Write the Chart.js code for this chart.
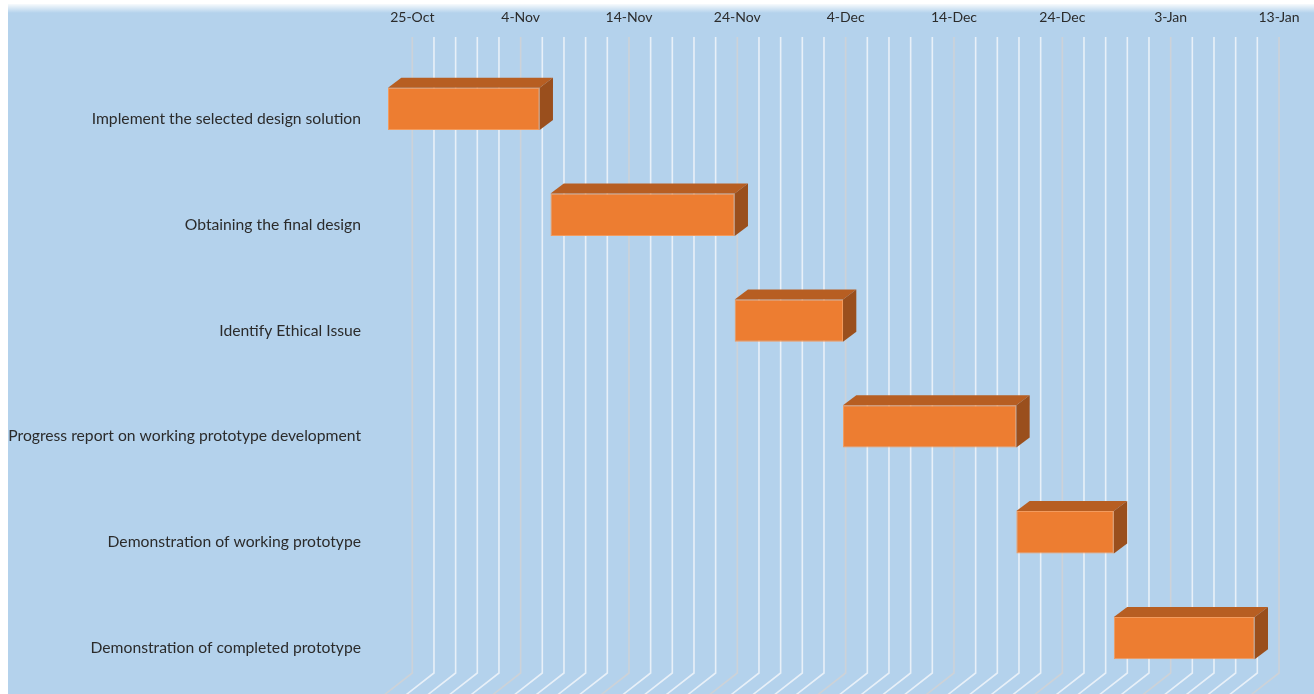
<!DOCTYPE html>
<html>
<head>
<meta charset="utf-8">
<title>Project schedule</title>
<script src="https://cdn.jsdelivr.net/npm/chart.js@4.4.1/dist/chart.umd.min.js"></script>
<style>
  html, body { margin: 0; padding: 0; background: #fff; }
  #wrap { width: 1314px; height: 694px; }
</style>
</head>
<body>
<div id="wrap"><canvas id="gantt"></canvas></div>
<script>
// schedule data
const tasks = [
    'Implement the selected design solution',
    'Obtaining the final design',
    'Identify Ethical Issue',
    'Progress report on working prototype development',
    'Demonstration of working prototype',
    'Demonstration of completed prototype'
];
const startDates = ['2019-10-25', '2019-11-09', '2019-11-26', '2019-12-06', '2019-12-22', '2019-12-31'];
const durations = [14, 17, 10, 16, 9, 13];   // days
const tickLabels = ['25-Oct', '4-Nov', '14-Nov', '24-Nov', '4-Dec', '14-Dec', '24-Dec', '3-Jan', '13-Jan'];

const axisStart = Date.UTC(2019, 9, 25);
const DAY = 86400000;
const dayOf = s => Math.round((Date.parse(s) - axisStart) / DAY);
const spans = startDates.map((s, i) => [dayOf(s), dayOf(s) + durations[i]]);

// 3D look: bars sit in front of the back wall
const WALL_X = 24.3;     // front plane -> back wall shift
const BAR_DX = 13.3, BAR_DY = 10;

const backdrop = {
    id: 'backdrop',
    beforeDraw(chart) {
        const { ctx, width, height } = chart;
        ctx.save();
        ctx.fillStyle = '#fff';
        ctx.fillRect(0, 0, width, height);
        ctx.fillStyle = '#B4D2EC';
        ctx.fillRect(8, 4, width - 8, height - 4);
        const g = ctx.createLinearGradient(0, 4, 0, 13);
        g.addColorStop(0, 'rgba(255,255,255,0.9)');
        g.addColorStop(1, 'rgba(255,255,255,0)');
        ctx.fillStyle = g;
        ctx.fillRect(8, 4, width - 8, 9);
        ctx.restore();
    }
};

const wallGrid = {
    id: 'wallGrid',
    beforeDatasetsDraw(chart) {
        const { ctx } = chart;
        const xs = chart.scales.x;
        ctx.save();
        ctx.lineWidth = 1.6;
        for (let d = xs.min; d <= xs.max; d += 2) {
            const x = xs.getPixelForValue(d) + WALL_X;
            ctx.strokeStyle = d % 10 === 0 ? '#CDD2D8' : '#E8F0F8';
            ctx.beginPath();
            ctx.moveTo(x, 37);
            ctx.lineTo(x, 673);
            ctx.lineTo(x - 1.28 * 30, 673 + 30);
            ctx.stroke();
        }
        ctx.restore();
    }
};

const barFaces = {
    id: 'barFaces',
    afterDatasetsDraw(chart) {
        const { ctx } = chart;
        ctx.save();
        chart.getDatasetMeta(0).data.forEach(bar => {
            const { x, y, base, height } = bar.getProps(['x', 'y', 'base', 'height'], true);
            const l = Math.min(x, base), r = Math.max(x, base);
            const t = y - height / 2, b = y + height / 2;
            // top
            ctx.fillStyle = '#B75E22';
            ctx.beginPath();
            ctx.moveTo(l, t);
            ctx.lineTo(l + BAR_DX, t - BAR_DY);
            ctx.lineTo(r + BAR_DX, t - BAR_DY);
            ctx.lineTo(r, t);
            ctx.closePath();
            ctx.fill();
            // right side
            ctx.fillStyle = '#9A4F1D';
            ctx.beginPath();
            ctx.moveTo(r, t);
            ctx.lineTo(r + BAR_DX, t - BAR_DY);
            ctx.lineTo(r + BAR_DX, b - BAR_DY);
            ctx.lineTo(r, b);
            ctx.closePath();
            ctx.fill();
        });
        ctx.restore();
    }
};

const family = 'Lato, "Open Sans", sans-serif';

new Chart(document.getElementById('gantt'), {
    type: 'bar',
    data: {
        labels: tasks,
        datasets: [{
            data: spans,
            backgroundColor: '#ED7D31',
            borderColor: '#F29B5E',
            borderWidth: 1,
            borderSkipped: false,
            barPercentage: 0.4,
            categoryPercentage: 1
        }]
    },
    options: {
        indexAxis: 'y',
        responsive: true,
        maintainAspectRatio: false,
        animation: false,
        layout: { padding: { left: 0, right: 59.3, top: 0, bottom: 3 } },
        plugins: {
            legend: { display: false },
            tooltip: { enabled: false }
        },
        scales: {
            x: {
                type: 'linear',
                position: 'top',
                min: 0,
                max: 80,
                grid: { display: false, drawTicks: false },
                border: { display: false },
                ticks: {
                    stepSize: 10,
                    padding: 30,
                    labelOffset: WALL_X,
                    color: '#2b2b2b',
                    font: { family, size: 14 },
                    maxRotation: 0,
                    callback: v => tickLabels[v / 10]
                },
                afterFit(s) { s.height = 56; }
            },
            y: {
                grid: { display: false, drawTicks: false },
                border: { display: false },
                ticks: {
                    padding: 27,
                    labelOffset: 10,
                    color: '#2b2b2b',
                    font: { family, size: 15.7 }
                },
                afterFit(s) {
                    s.width = 388;
                    s.paddingTop = 0;
                    s.paddingBottom = 0;
                }
            }
        }
    },
    plugins: [backdrop, wallGrid, barFaces]
});
</script>
</body>
</html>
